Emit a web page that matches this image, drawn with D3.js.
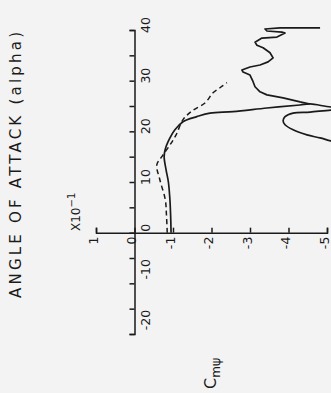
<!DOCTYPE html>
<html><head><meta charset="utf-8">
<script src="https://cdn.jsdelivr.net/npm/d3@7"></script>
<style>html,body{margin:0;padding:0;background:#f3f3f3;}svg{display:block;}</style>
</head><body>
<script>
// ---- data ----
const alphaTickValues = [-20,-15,-10,-5,0,5,10,15,20,25,30,35,40];
const alphaTickLabels = [-20,-10,0,10,20,30,40];
const cmTickValues = [1,0,-1,-2,-3,-4,-5];
const cmTickLabels = ["1","0","-1","-2","-3","-4","-5"];

// solid curve, main branch (alpha, Cm x10^-1)
const solidAlpha = [0, 3, 6.5, 10, 12.4, 15.0, 16.5, 17.9, 20.3, 21.9, 22.9, 23.6, 23.9, 24.6, 25.2, 25.4, 24.8, 24.7];
const solidCm    = [-0.95, -0.94, -0.92, -0.88, -0.82, -0.77, -0.8, -0.87, -1.05, -1.26, -1.62, -1.96, -2.56, -3.44, -4.30, -4.56, -5.10, -5.6];
// solid curve, loop re-entering from beyond the frame
const loopAlpha = [24.3, 24.2, 23.8, 23.6, 22.9, 22.1, 21.3, 20.3, 19.3, 18.7, 18.1, 17.2];
const loopCm    = [-5.6, -5.10, -4.56, -4.12, -3.91, -3.86, -3.91, -4.12, -4.48, -4.82, -5.10, -5.6];
// solid curve, post-stall oscillating branch
const zigAlpha = [25.4, 25.8, 26.6, 27.2, 27.8, 28.8, 29.8, 31.1, 31.7, 32.1, 32.7, 33.1, 33.7, 34.5, 35.5, 36.5, 37.0, 37.6, 38.4, 38.6, 39.4, 39.6, 39.8, 40.2, 40.4, 40.4];
const zigCm    = [-4.56, -4.30, -3.86, -3.44, -3.26, -3.13, -3.08, -3.00, -2.82, -2.79, -3.00, -3.26, -3.47, -3.60, -3.52, -3.34, -3.18, -3.13, -3.31, -3.70, -3.91, -3.83, -3.44, -3.39, -3.78, -4.82];
// dashed curve
const dashAlpha = [0, 3.5, 6.5, 10.4, 13.4, 15.0, 17.3, 19.3, 22.3, 24.0, 25.6, 27.6, 28.6, 29.6];
const dashCm    = [-0.85, -0.83, -0.80, -0.66, -0.58, -0.71, -0.92, -1.08, -1.26, -1.49, -1.83, -2.04, -2.22, -2.40];

const W = 331, H = 393;
const svg = d3.select("body").append("svg").attr("width", W).attr("height", H);
svg.append("rect").attr("width", W).attr("height", H).attr("fill", "#f3f3f3");

const x = d3.scaleLinear().domain([1, -5]).range([96, 327]);   // Cm (x10^-1)
const y = d3.scaleLinear().domain([-20, 40]).range([334, 30]);  // angle of attack
const ink = "#1a1a1a";
const font = "DejaVu Sans, sans-serif";

// alpha axis (vertical, at Cm = 0)
svg.append("g").attr("transform", `translate(${x(0)},0)`)
  .call(d3.axisLeft(y).tickValues(alphaTickValues).tickSize(5).tickSizeOuter(5).tickFormat(""));
// Cm axis (horizontal, at alpha = 0)
svg.append("g").attr("transform", `translate(0,${y(0)})`)
  .call(d3.axisTop(x).tickValues(cmTickValues).tickSize(5).tickSizeOuter(5).tickFormat(""));
svg.selectAll(".domain, .tick line").attr("stroke", ink).attr("stroke-width", 1.5);

// alpha tick labels (rotated)
svg.append("g").selectAll("text").data(alphaTickLabels).join("text")
  .attr("transform", d => `translate(${x(0) + 15},${y(d) + (d < 0 ? -14 : -5)}) rotate(-90)`)
  .attr("text-anchor", "middle").attr("font-family", font).attr("font-size", 12.5)
  .attr("fill", ink).text(d => d);

// Cm tick labels (rotated)
svg.append("g").selectAll("text").data(cmTickValues).join("text")
  .attr("transform", d => `translate(${x(d) + 1.5},${y(0) + 4}) rotate(-90)`)
  .attr("text-anchor", "end").attr("font-family", font).attr("font-size", 12.5)
  .attr("fill", ink).text((d, i) => cmTickLabels[i]);

// scale factor label
const sf = svg.append("text").attr("transform", `translate(80,231) rotate(-90)`)
  .attr("font-family", font).attr("font-size", 12).attr("fill", ink);
sf.append("tspan").text("X10");
sf.append("tspan").attr("dy", -5).attr("font-size", 10).text("\u22121");

// axis titles
svg.append("text").attr("transform", `translate(21,165) rotate(-90)`)
  .attr("text-anchor", "middle").attr("font-family", font).attr("font-size", 15)
  .attr("textLength", 266).attr("lengthAdjust", "spacing").attr("fill", ink)
  .text("ANGLE OF ATTACK (alpha)");
const cm = svg.append("text").attr("transform", `translate(216,389) rotate(-90)`)
  .attr("font-family", font).attr("font-size", 16).attr("fill", ink);
cm.append("tspan").text("C");
cm.append("tspan").attr("dy", 4).attr("font-size", 12).text("m");
cm.append("tspan").attr("font-size", 13).text("\u03C8");

// curves
const line = d3.line().x(d => x(d[1])).y(d => y(d[0])).curve(d3.curveCatmullRom.alpha(0.5));
const straight = d3.line().x(d => x(d[1])).y(d => y(d[0])).curve(d3.curveLinear);
const zipped = (a, c) => a.map((v, i) => [v, c[i]]);
const g = svg.append("g").attr("fill", "none").attr("stroke", ink).attr("stroke-linejoin", "round");
g.append("path").attr("d", line(zipped(solidAlpha, solidCm))).attr("stroke-width", 1.7);
g.append("path").attr("d", line(zipped(loopAlpha, loopCm))).attr("stroke-width", 1.7);
g.append("path").attr("d", straight(zipped(zigAlpha, zigCm))).attr("stroke-width", 1.7);
g.append("path").attr("d", line(zipped(dashAlpha, dashCm))).attr("stroke-width", 1.5).attr("stroke-dasharray", "5,3.5");
</script>
</body></html>
